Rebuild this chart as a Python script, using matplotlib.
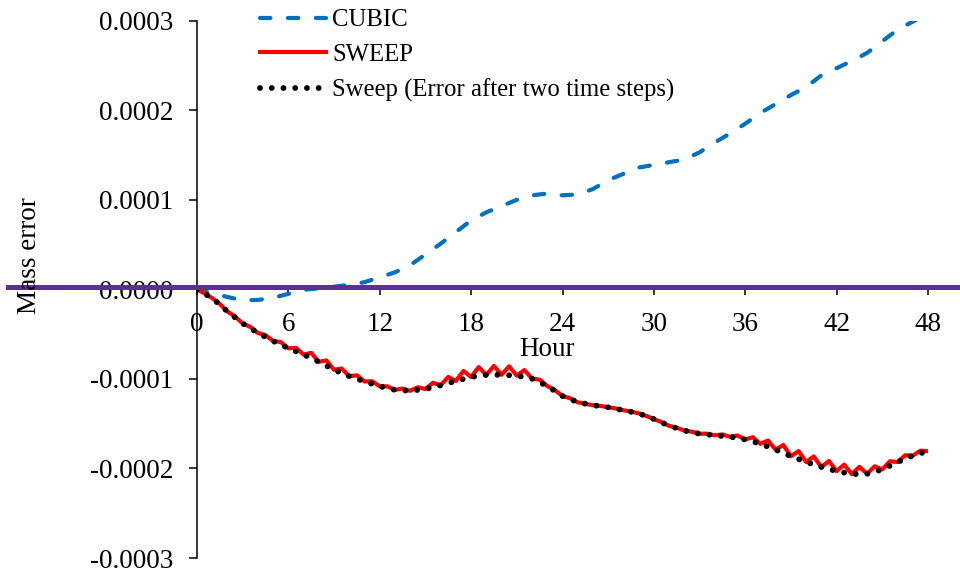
import matplotlib
matplotlib.use("Agg")
import matplotlib.pyplot as plt
import matplotlib.transforms as mtransforms
import numpy as np

plt.rcParams['font.family'] = ['Liberation Serif', 'DejaVu Serif']

# values, in units of 1e-4
hours = list(range(0, 49))
hours_half = [h / 2 for h in range(0, 97)]

cubic_e4 = [0.0, -0.045, -0.085, -0.123, -0.118, -0.095, -0.05, -0.005, 0.012, 0.03,
            0.05, 0.08, 0.135, 0.19, 0.27, 0.39, 0.51, 0.64, 0.77, 0.86,
            0.93, 1.00, 1.05, 1.07, 1.05, 1.06, 1.12, 1.22, 1.29, 1.36,
            1.39, 1.42, 1.45, 1.53, 1.64, 1.74, 1.85, 1.97, 2.07, 2.17,
            2.26, 2.39, 2.47, 2.55, 2.64, 2.77, 2.90, 2.99, 3.08]

sweep_e4 = [0.0, -0.045, -0.098, -0.163, -0.247, -0.304, -0.381, -0.419, -0.487, -0.512,
            -0.577, -0.588, -0.658, -0.653, -0.728, -0.709, -0.809, -0.794, -0.898, -0.884,
            -0.970, -0.960, -1.029, -1.026, -1.082, -1.083, -1.123, -1.108, -1.133, -1.093,
            -1.113, -1.043, -1.072, -0.978, -1.023, -0.911, -0.979, -0.868, -0.956, -0.855,
            -0.954, -0.859, -0.964, -0.901, -0.997, -1.008, -1.079, -1.125, -1.191, -1.216,
            -1.261, -1.278, -1.294, -1.302, -1.317, -1.330, -1.350, -1.364, -1.385, -1.413,
            -1.448, -1.482, -1.524, -1.545, -1.577, -1.590, -1.612, -1.612, -1.630, -1.620,
            -1.646, -1.632, -1.677, -1.651, -1.725, -1.688, -1.791, -1.738, -1.864, -1.806,
            -1.928, -1.866, -1.984, -1.917, -2.030, -1.957, -2.064, -1.982, -2.060, -1.976,
            -2.011, -1.920, -1.928, -1.853, -1.857, -1.802, -1.806]

sweep2_e4 = [0.0, -0.098, -0.247, -0.381, -0.487, -0.577, -0.658, -0.728, -0.809, -0.898,
             -0.970, -1.029, -1.082, -1.123, -1.133, -1.113, -1.072, -1.023, -0.979, -0.956,
             -0.954, -0.964, -0.997, -1.079, -1.191, -1.261, -1.294, -1.317, -1.350, -1.385,
             -1.448, -1.524, -1.577, -1.612, -1.630, -1.646, -1.677, -1.725, -1.791, -1.864,
             -1.928, -1.984, -2.030, -2.064, -2.060, -2.011, -1.928, -1.857, -1.806]

xticks = [0, 6, 12, 18, 24, 30, 36, 42, 48]
yticks = [-0.0003, -0.0002, -0.0001, 0.0, 0.0001, 0.0002, 0.0003]
ytick_labels = ['-0.0003', '-0.0002', '-0.0001', '0.0000', '0.0001', '0.0002', '0.0003']

scale = 1e-4
cubic = np.array(cubic_e4) * scale
sweep = np.array(sweep_e4) * scale
sweep2 = np.array(sweep2_e4) * scale

fig = plt.figure(figsize=(9.6, 5.75), dpi=100)
ax = fig.add_axes([197 / 960, 1 - 558 / 575, 731 / 960, 537.3 / 575])

ax.plot(hours, cubic, color='#0070C0', linewidth=3, dashes=(2.5, 4.2),
        dash_capstyle='round', label='CUBIC')
ax.plot(hours_half, sweep, color='#FF0000', linewidth=3, label='SWEEP')
ax.plot(hours, sweep2, color='black', linewidth=4.2, linestyle=(0, (0.01, 2.0)),
        dash_capstyle='round', label='Sweep (Error after two time steps)')

ax.set_xlim(0, 48)
ax.set_ylim(-0.0003, 0.0003)

ax.spines['top'].set_visible(False)
ax.spines['right'].set_visible(False)
ax.spines['bottom'].set_position(('data', 0))
for s in ['left', 'bottom']:
    ax.spines[s].set_linewidth(1.1)

ax.set_xticks(xticks)
ax.set_xticklabels([str(t) for t in xticks])
ax.set_yticks(yticks)
ax.set_yticklabels(ytick_labels)
ax.tick_params(axis='x', direction='out', length=4.5, width=1.1, pad=11.5, labelsize=19.5)
ax.tick_params(axis='y', direction='out', length=6, width=1.1, pad=11, labelsize=19.5)

# purple zero line running across the whole figure
trans = mtransforms.blended_transform_factory(fig.transFigure, ax.transData)
ax.plot([8 / 960, 1.0], [0.000003, 0.000003], color='#5B3092', linewidth=3.6,
        transform=trans, clip_on=False, zorder=10)

fig.text(30 / 960, 1 - 256 / 575, 'Mass error', rotation=90, ha='center', va='center', fontsize=19.5)
fig.text(547 / 960, 1 - 350 / 575, 'Hour', ha='center', va='center', fontsize=19.5)

ax.legend(loc='upper left', bbox_to_anchor=(260 / 960, 1 - 9 / 575), bbox_transform=fig.transFigure,
          frameon=False, fontsize=17.8, handlelength=2.65, handletextpad=0.28,
          labelspacing=0.5, borderpad=0, borderaxespad=0)

fig.savefig('out.png', dpi=100)
